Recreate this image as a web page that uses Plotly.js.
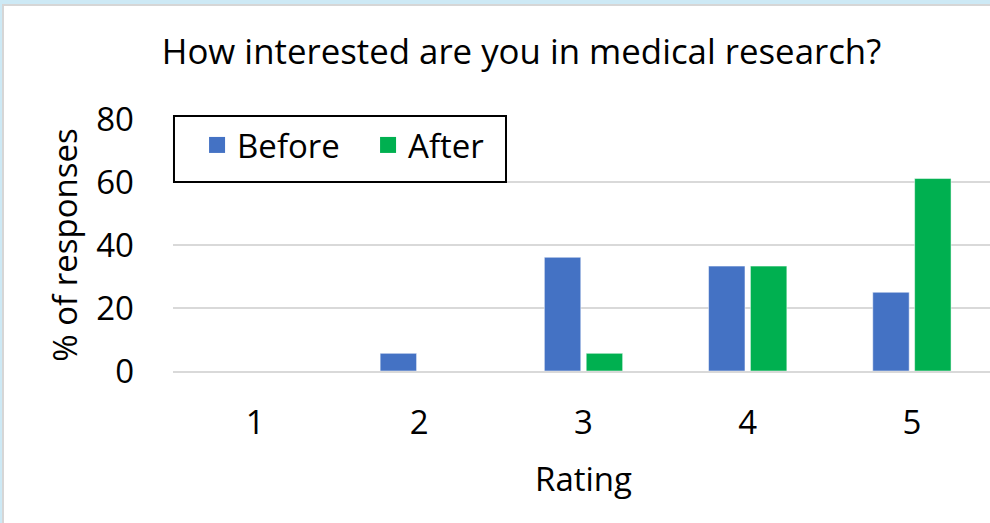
<!DOCTYPE html>
<html><head><meta charset="utf-8">
<script src="https://cdn.plot.ly/plotly-3.0.1.min.js"></script>
<style>
html,body{margin:0;padding:0;width:990px;height:523px;overflow:hidden;background:#cde9f5;}
#bg{position:absolute;left:2px;top:4px;width:1000px;height:530px;background:#fff;border-left:2px solid #d6d6d6;border-top:2px solid #d6d6d6;}
#chart{position:absolute;left:0;top:0;width:1000px;height:523px;}
</style></head>
<body>
<div id="bg"></div>
<div id="chart"></div>
<script>
const categories = ['1','2','3','4','5'];
const before = [0, 5.6, 36.1, 33.3, 25.0];
const after = [0, 0, 5.6, 33.3, 61.1];
const yTicks = [0, 20, 40, 60, 80];
const FONT = '"Open Sans", sans-serif';

const traces = [
  {type:'bar', name:'Before', x:categories, y:before, showlegend:false, marker:{color:'#4472c4', line:{color:'#ffffff', width:0.5}}},
  {type:'bar', name:'After', x:categories, y:after, showlegend:false, marker:{color:'#00b050', line:{color:'#ffffff', width:0.5}}},
  {type:'scatter', mode:'markers', name:'Before', x:[null], y:[null], marker:{symbol:'square', size:22, color:'#4472c4'}},
  {type:'scatter', mode:'markers', name:'After', x:[null], y:[null], marker:{symbol:'square', size:22, color:'#00b050'}}
];
const layout = {
  width:1000, height:523,
  margin:{l:173, r:6, t:119, b:152, pad:0},
  paper_bgcolor:'rgba(0,0,0,0)', plot_bgcolor:'rgba(0,0,0,0)',
  font:{family:FONT, color:'#000', size:33},
  title:{text:'How interested are you in medical research?', x:0.5215, xanchor:'center', y:0.9, yanchor:'middle', font:{size:34.8, family:FONT, color:'#000'}},
  barmode:'group', bargap:0.49, bargroupgap:0.13,
  showlegend:true,
  legend:{orientation:'h', x:0.0293, xanchor:'left', y:1.008, yanchor:'top', borderwidth:0, bgcolor:'rgba(0,0,0,0)', font:{size:33, family:FONT}, itemsizing:'trace', itemwidth:30, entrywidth:126, entrywidthmode:'pixels', tracegroupgap:0},
  shapes:[{type:'rect', xref:'paper', yref:'paper', x0:0.0012, x1:0.4056, y0:0.75, y1:1.012, line:{color:'#000', width:2}, fillcolor:'#fff', layer:'above'}],
  xaxis:{type:'category', showgrid:false, showline:true, linecolor:'#d9d9d9', linewidth:1.5, ticks:'', tickfont:{size:33}, ticklabelstandoff:22,
    title:{text:'Rating', font:{size:33}, standoff:25}},
  yaxis:{range:[0,80], tickvals:yTicks, ticktext:yTicks.map(String), showgrid:true, gridcolor:'#d9d9d9', gridwidth:1.5, zeroline:false, showline:false, ticks:'', tickfont:{size:33}, ticklabelstandoff:38,
    title:{text:'% of responses', font:{size:33}, standoff:8}}
};
Plotly.newPlot('chart', traces, layout, {displayModeBar:false, staticPlot:true});
</script>
</body></html>
